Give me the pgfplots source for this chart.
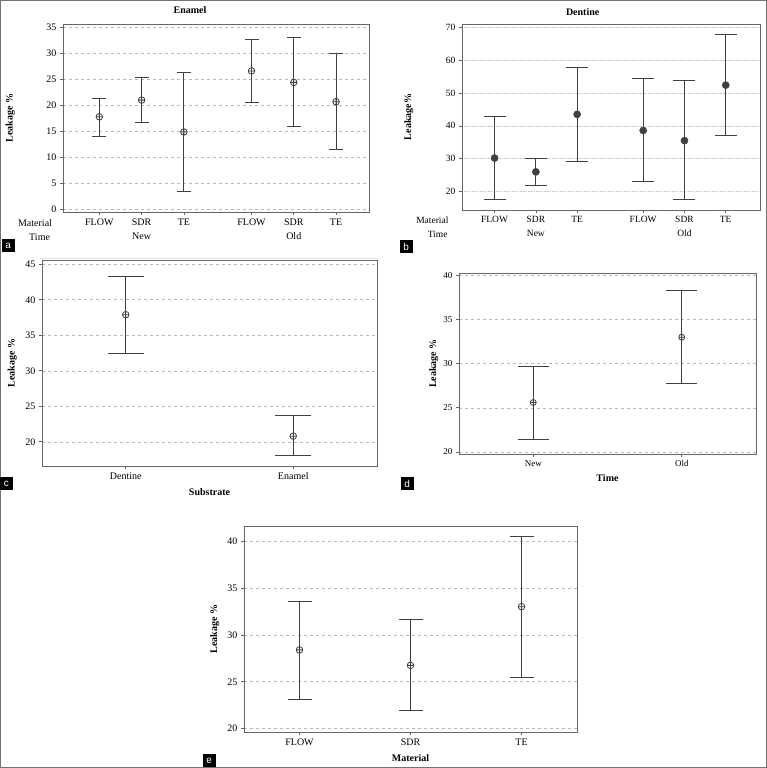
\documentclass[border=0pt]{standalone}
\usepackage{pgfplots}
\pgfplotsset{compat=1.18}
\usepackage{pgfplotstable}
\usepackage{fontspec}
\setmainfont{Liberation Serif}
\newfontfamily\labfont{Liberation Sans}

\pgfplotstableread{
x y ep em
1 17.8 3.6 3.7
2 21.0 4.3 4.2
3 14.9 11.4 11.5
4.6 26.6 6.0 6.0
5.6 24.4 8.6 8.5
6.6 20.7 9.3 9.2
}\enamel
\pgfplotstableread{
x y ep em
1 30.2 12.7 12.7
2 26.0 4.0 4.1
3 43.5 14.3 14.3
4.6 38.6 15.8 15.6
5.6 35.5 18.2 18.0
6.6 52.4 15.4 15.4
}\dentine
\pgfplotstableread{
x y ep em
1 37.9 5.4 5.5
2 20.8 2.9 2.7
}\substrate
\pgfplotstableread{
x y ep em
1 25.6 4.1 4.2
2 33.0 5.3 5.2
}\timetab
\pgfplotstableread{
x y ep em
1 28.4 5.2 5.3
2 26.75 4.85 4.8
3 33.0 7.45 7.55
}\material

\definecolor{ink}{gray}{0.25}
\pgfplotsset{
  every axis title shift=0pt,
  myax/.style={scale only axis, anchor=south west,
    axis line style={black!60, line width=0.9pt},
    tick style={black!60, line width=0.7pt},
    tick align=outside, major tick length=3pt,
    xtick pos=left, ytick pos=left,
    ymajorgrids, major grid style={gray!55, dashed, line width=0.6pt},
    tick label style={font=\fontsize{10}{14}\selectfont},
    label style={font=\bfseries\fontsize{10}{12}\selectfont},
    title style={font=\bfseries\fontsize{10}{12}\selectfont},
    /pgf/number format/assume math mode=true},
  errs/.style={only marks, mark=oplus, mark size=3.3pt, ink,
    mark options={line width=0.8pt},
    error bars/y dir=both, error bars/y explicit,
    error bars/error bar style={line width=1pt, ink},
    error bars/error mark options={rotate=90, mark size=#1, line width=1pt, ink}},
}

\begin{document}
\begin{tikzpicture}[x=1pt,y=1pt]
\useasboundingbox (0,0) rectangle (767,768);
\draw[black!55, line width=1pt] (0.5,0.5) rectangle (766.5,767.5);
\draw[gray!25, line width=0.8pt] (40,509.7) -- (377,509.7);

% (a) Enamel
\begin{axis}[myax, at={(63pt,556pt)}, width=306pt, height=188pt,
  xmin=0.14, xmax=7.38, ymin=-0.45, ymax=35.6,
  ytick={0,5,...,35},
  xtick={1,2,3,4.6,5.6,6.6},
  xticklabels={FLOW,{SDR\\New},TE,FLOW,{SDR\\Old},TE},
  xticklabel style={align=center},
  title={Enamel}, title style={at={(axis description cs:0.415,1.074)}, anchor=center},
  ylabel={Leakage \%}, ylabel style={at={(axis description cs:-0.172,0.5)}, anchor=center}]
\addplot+[errs=7pt] table[x=x, y=y, y error plus=ep, y error minus=em] {\enamel};
\end{axis}
\node[anchor=east, font=\fontsize{10}{12}\selectfont] at (55.5,545) {Material};
\node[anchor=east, font=\fontsize{10}{12}\selectfont] at (53.5,530.5) {Time};

% (b) Dentine
\begin{axis}[myax, at={(462pt,558pt)}, width=298pt, height=186pt,
  xmin=0.21, xmax=7.43, ymin=14.4, ymax=71.0,
  ytick={20,30,...,70},
  major grid style={gray!45, densely dotted, line width=0.7pt},
  tick label style={font=\fontsize{9.5}{14}\selectfont},
  xtick={1,2,3,4.6,5.6,6.6},
  xticklabels={FLOW,{SDR\\New},TE,FLOW,{SDR\\Old},TE},
  xticklabel style={align=center},
  title={Dentine}, title style={at={(axis description cs:0.405,1.066)}, anchor=center},
  ylabel={Leakage\%}, ylabel style={at={(axis description cs:-0.179,0.5)}, anchor=center}]
\addplot+[errs=11pt, mark=*, mark size=3.6pt, mark options={fill=ink, draw=ink}]
  table[x=x, y=y, y error plus=ep, y error minus=em] {\dentine};
\end{axis}
\node[anchor=east, font=\fontsize{9.5}{12}\selectfont] at (452,548) {Material};
\node[anchor=east, font=\fontsize{9.5}{12}\selectfont] at (451,533.5) {Time};

% (c) Substrate
\begin{axis}[myax, at={(42pt,302pt)}, width=335pt, height=206pt,
  xmin=0.5, xmax=2.5, ymin=16.6, ymax=45.6,
  ytick={20,25,...,45},
  xtick={1,2}, xticklabels={Dentine,Enamel},
  xlabel={Substrate}, xlabel style={at={(axis description cs:0.5,-0.128)}, anchor=center},
  ylabel={Leakage \%}, ylabel style={at={(axis description cs:-0.089,0.5)}, anchor=center}]
\addplot+[errs=18pt] table[x=x, y=y, y error plus=ep, y error minus=em] {\substrate};
\end{axis}

% (d) Time
\begin{axis}[myax, at={(459pt,314pt)}, width=297pt, height=181pt,
  xmin=0.5, xmax=2.5, ymin=19.77, ymax=40.27,
  ytick={20,25,...,40},
  tick label style={font=\fontsize{9}{12}\selectfont},
  xtick={1,2}, xticklabels={New,Old},
  xlabel={Time}, xlabel style={at={(axis description cs:0.5,-0.131)}, anchor=center},
  ylabel={Leakage \%}, ylabel style={at={(axis description cs:-0.085,0.5)}, anchor=center}]
\addplot+[errs=15.5pt, mark size=3pt] table[x=x, y=y, y error plus=ep, y error minus=em] {\timetab};
\end{axis}

% (e) Material
\begin{axis}[myax, at={(244pt,36pt)}, width=333pt, height=206pt,
  xmin=0.5, xmax=3.5, ymin=19.65, ymax=41.6,
  ytick={20,25,...,40},
  xtick={1,2,3}, xticklabels={FLOW,SDR,TE},
  xlabel={Material}, xlabel style={at={(axis description cs:0.5,-0.125)}, anchor=center},
  ylabel={Leakage \%}, ylabel style={at={(axis description cs:-0.088,0.5)}, anchor=center}]
\addplot+[errs=12pt] table[x=x, y=y, y error plus=ep, y error minus=em] {\material};
\end{axis}

% panel letters
\foreach \l/\px/\py in {a/2/516, b/400/515, c/0/278, d/401/278, e/203/1}{
  \fill[black] (\px,\py) rectangle ++(12.5,13);
  \node[white, font=\labfont\fontsize{10}{10}\selectfont] at (\px+6.25,\py+6.5) {\l};
}
\end{tikzpicture}
\end{document}
